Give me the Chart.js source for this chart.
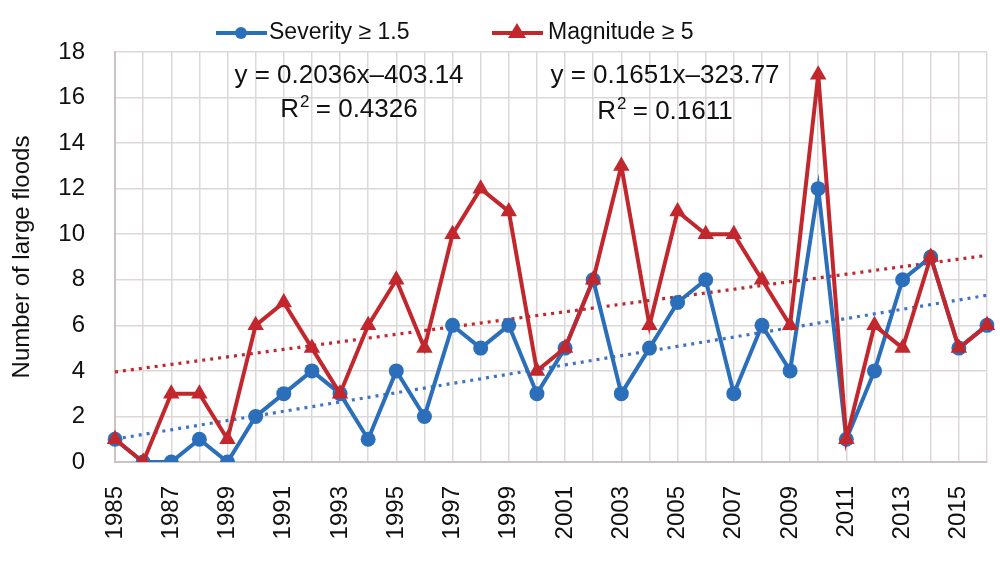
<!DOCTYPE html>
<html>
<head>
<meta charset="utf-8">
<script src="https://cdn.jsdelivr.net/npm/chart.js@4.4.1/dist/chart.umd.min.js"></script>
<style>
html,body{margin:0;padding:0;background:#fff;}
#wrap{width:1000px;height:566px;position:relative;}
</style>
</head>
<body>
<div id="wrap"><canvas id="c" width="1000" height="566"></canvas></div>
<script>
const years = [1985,1986,1987,1988,1989,1990,1991,1992,1993,1994,1995,1996,1997,1998,1999,2000,2001,2002,2003,2004,2005,2006,2007,2008,2009,2010,2011,2012,2013,2014,2015,2016];
const severity = [1,0,0,1,0,2,3,4,3,1,4,2,6,5,6,3,5,8,3,5,7,8,3,6,4,12,1,4,8,9,5,6];
const magnitude = [1,0,3,3,1,6,7,5,3,6,8,5,10,12,11,4,5,8,13,6,11,10,10,8,6,17,1,6,5,9,5,6];
const yTicks = [0,2,4,6,8,10,12,14,16,18];
const seriesNames = ['Severity \u2265 1.5','Magnitude \u2265 5'];
const sevFit = {slope:0.2036, intercept:-403.14, r2:'0.4326', text:'y = 0.2036x\u2013403.14'};
const magFit = {slope:0.1651, intercept:-323.77, r2:'0.1611', text:'y = 0.1651x\u2013323.77'};

const BLUE = '#2b6fba';
const RED = '#c1272d';
const BLUE_T = '#3f74c2';
const RED_T = '#c1272d';
const FONT = 'Arial, "Liberation Sans", Helvetica, sans-serif';

const sevTrend = years.map(x => sevFit.slope*x + sevFit.intercept);
const magTrend = years.map(x => magFit.slope*x + magFit.intercept);

const overlay = {
  id:'overlay',
  afterDraw(chart){
    const ctx = chart.ctx;
    ctx.save();
    // legend
    const ly = 33;
    ctx.lineWidth = 4;
    ctx.strokeStyle = BLUE; ctx.fillStyle = BLUE;
    ctx.beginPath(); ctx.moveTo(216,ly); ctx.lineTo(267,ly); ctx.stroke();
    ctx.beginPath(); ctx.arc(241,ly,6,0,Math.PI*2); ctx.fill();
    ctx.strokeStyle = RED; ctx.fillStyle = RED;
    ctx.beginPath(); ctx.moveTo(492,ly); ctx.lineTo(543,ly); ctx.stroke();
    ctx.beginPath(); ctx.moveTo(517,ly-10); ctx.lineTo(526,ly+5); ctx.lineTo(508,ly+5); ctx.closePath(); ctx.fill();
    ctx.fillStyle = '#111';
    ctx.font = '23px ' + FONT;
    ctx.textBaseline = 'middle'; ctx.textAlign = 'left';
    ctx.fillText(seriesNames[0], 269, ly);
    ctx.fillText(seriesNames[1], 548, ly);
    function eq(fit, cx, y1, y2){
      ctx.font = '26px ' + FONT;
      ctx.textAlign = 'center';
      ctx.fillText(fit.text, cx, y1);
      const rest = ' = ' + fit.r2;
      const wR = ctx.measureText('R').width;
      ctx.font = '17px ' + FONT;
      const w2 = ctx.measureText('2').width;
      ctx.font = '26px ' + FONT;
      const wRest = ctx.measureText(rest).width;
      const total = wR + w2 + wRest;
      let x0 = cx - total/2;
      ctx.textAlign = 'left';
      ctx.fillText('R', x0, y2);
      ctx.font = '17px ' + FONT;
      ctx.fillText('2', x0 + wR + 1, y2 - 8);
      ctx.font = '26px ' + FONT;
      ctx.fillText(rest, x0 + wR + w2, y2);
    }
    eq(sevFit, 349, 76, 110);
    eq(magFit, 665, 76, 112);
    ctx.restore();
  }
};

new Chart(document.getElementById('c'), {
  type:'line',
  data:{
    labels: years.map(String),
    datasets:[
      {label:seriesNames[1], data:magnitude, borderColor:RED, backgroundColor:RED, borderWidth:4,
       pointStyle:'triangle', pointRadius:9.5, pointBorderWidth:0, pointBackgroundColor:RED, tension:0, order:1},
      {label:seriesNames[0], data:severity, borderColor:BLUE, backgroundColor:BLUE, borderWidth:4,
       pointStyle:'circle', pointRadius:7.5, pointBorderWidth:0, pointBackgroundColor:BLUE, tension:0, order:2},
      {label:'trend sev', data:sevTrend, borderColor:BLUE_T, borderWidth:3.2, borderDash:[3,5], pointRadius:0, order:3, tension:0},
      {label:'trend mag', data:magTrend, borderColor:RED_T, borderWidth:3.2, borderDash:[3,5], pointRadius:0, order:3, tension:0}
    ]
  },
  options:{
    responsive:false,
    animation:false,
    events:[],
    layout:{padding:{left:0,right:13,top:52,bottom:0}},
    plugins:{legend:{display:false}, tooltip:{enabled:false}},
    scales:{
      x:{
        type:'category',
        offset:false,
        grid:{color:'#dcd8d8', lineWidth:1.5, drawTicks:false},
        border:{color:'#c9c3c3', width:2},
        ticks:{
          autoSkip:false, maxRotation:90, minRotation:90, padding:24,
          color:'#111', font:{size:24, family:FONT},
          callback:function(v, i){ return (i % 2 === 0) ? years[i] : ''; }
        },
        afterFit:function(s){ s.height = 104; s.paddingLeft = 0; s.paddingRight = 0; }
      },
      y:{
        min:0, max:18,
        afterBuildTicks:function(s){ s.ticks = yTicks.map(v => ({value:v})); },
        grid:{color:'#dcd8d8', lineWidth:1.5, drawTicks:false},
        border:{color:'#c9c3c3', width:2},
        ticks:{padding:30, color:'#111', font:{size:24, family:FONT}},
        title:{display:true, text:'Number of large floods', color:'#111', font:{size:24, family:FONT}, padding:{top:8,bottom:0}},
        afterFit:function(s){ s.width = 115; s.paddingTop = 0; s.paddingBottom = 0; }
      }
    }
  },
  plugins:[overlay]
});
</script>
</body>
</html>
